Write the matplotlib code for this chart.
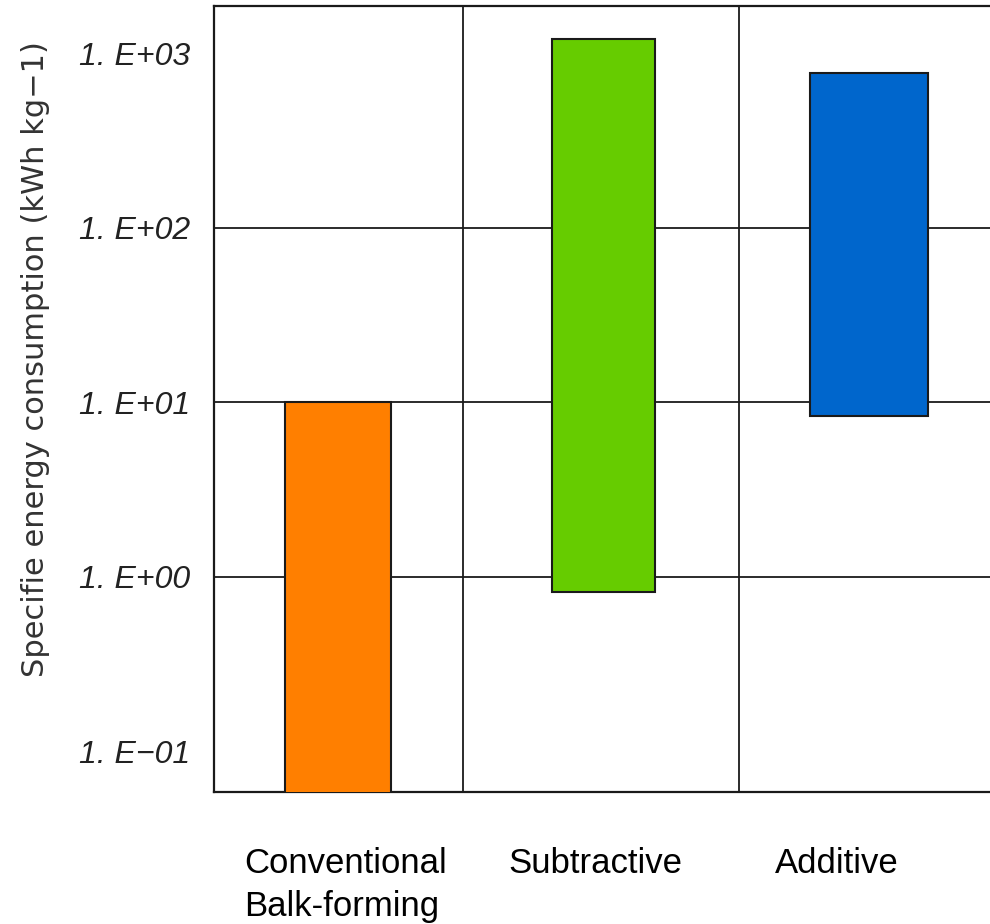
import matplotlib.pyplot as plt

# data (log scale, floating bars)
categories = ["Conventional\nBalk-forming", "Subtractive", "Additive"]
low_values = [0.01, 0.82, 8.4]
high_values = [10.0, 1210.0, 773.0]
bar_colors = ["#FF7F00", "#66CC00", "#0066CC"]
tick_values = [0.1, 1, 10, 100, 1000]
tick_labels = ["1. E\u221201", "1. E+00", "1. E+01", "1. E+02", "1. E+03"]
grid_values = [1, 10, 100]
separators = [0.47, 1.51]

# layout helpers
bar_widths = [0.4, 0.39, 0.445]
label_positions = [0.03, 0.97, 1.88]

fig = plt.figure(figsize=(9.9, 9.24), dpi=100)
ax = fig.add_axes([0.216, 0.143, 0.79, 0.8506])

# floating bars from low to high
positions = list(range(len(categories)))
heights = [h - l for l, h in zip(low_values, high_values)]
ax.bar(positions, heights, bottom=low_values, width=bar_widths,
       color=bar_colors, edgecolor="#1a1a1a", linewidth=1.5, zorder=3)

ax.set_yscale("log")
ax.set_ylim(0.0586, 1870)
ax.set_xlim(-0.468, 2.48)

# grid lines drawn by hand (only some decades have one)
for g in grid_values:
    ax.axhline(g, color="#1a1a1a", linewidth=1.3, zorder=1)
for s in separators:
    ax.axvline(s, color="#1a1a1a", linewidth=1.3, zorder=1)

ax.set_yticks(tick_values)
ax.set_yticklabels(tick_labels, fontsize=23, style="italic",
                   family=["Liberation Sans", "DejaVu Sans"],
                   color="#222222")
ax.minorticks_off()
ax.tick_params(axis="y", length=0, pad=17)

ax.set_xticks(label_positions)
ax.set_xticklabels(categories, fontsize=25,
                   family=["Liberation Sans", "DejaVu Sans"],
                   multialignment="left", linespacing=1.35)
ax.tick_params(axis="x", length=0, pad=40)

for side in ["left", "top", "bottom"]:
    ax.spines[side].set_linewidth(1.6)
    ax.spines[side].set_color("#1a1a1a")
ax.spines["right"].set_visible(False)

fig.text(0.036, 0.611, "Specifie energy consumption (kWh kg\u22121)",
         rotation=90, ha="center", va="center", fontsize=22,
         color="#333333")

fig.savefig("out.png", dpi=100)
